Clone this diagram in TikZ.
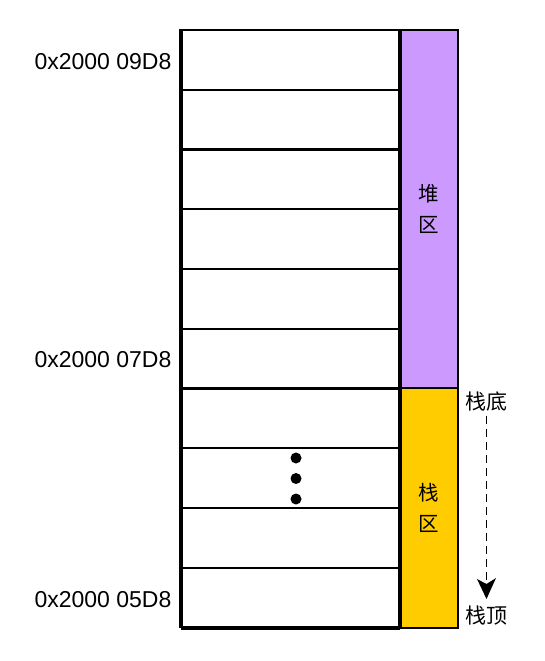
\documentclass[tikz,border=0pt]{standalone}
\usepackage{fontspec}
\setmainfont{Liberation Sans}
\newfontfamily\cjk{Noto Sans CJK SC}
\usetikzlibrary{arrows.meta}
\definecolor{heapc}{HTML}{CC99FF}
\definecolor{stackc}{HTML}{FFCC00}
\tikzset{
  cell/.style={draw=black, line width=2pt, minimum width=217pt, minimum height=59.7pt, inner sep=0pt, fill=white},
  region/.style={draw=black, line width=1.3pt, minimum width=59pt, inner sep=0pt, align=center, font=\cjk\fontsize{20.5}{31}\selectfont},
  addr/.style={inner sep=0pt, font=\fontsize{23}{27}\selectfont},
  side/.style={inner sep=0pt, font=\cjk\fontsize{21}{24}\selectfont},
  dotmark/.style={circle, fill=black, inner sep=0pt, minimum size=11pt},
  frame/.style={line width=3.2pt}
}
\begin{document}
\begin{tikzpicture}[x=1pt,y=-1pt]
\useasboundingbox (0,0) rectangle (545,661);
% memory cells
\foreach \i in {1,...,10} {
  \node[cell] (r\i) at (290.5, {30+59.75*(\i-0.5)}) {};
}
% regions
\node[region, fill=heapc, minimum height=358pt] (heap) at (428.5,209) {堆\\区};
\node[region, fill=stackc, minimum height=240pt] (stack) at (428.5,508) {栈\\区};
% thick frame lines
\draw[frame] (r1.north west) -- (r10.south west);
\draw[frame] (r1.north east) -- (r10.south east);
\draw[frame] (r10.south west) -- (r10.south east);
% dots
\node[dotmark] (d1) at (296,458) {};
\node[dotmark] (d2) at (296,478.5) {};
\node[dotmark] (d3) at (296,499) {};
% address labels
\node[addr] (a1) at (103,62) {0x2000 09D8};
\node[addr] (a2) at (103,360) {0x2000 07D8};
\node[addr] (a3) at (103,600) {0x2000 05D8};
% stack bottom / top
\node[side] (sb) at (486.5,402) {栈底};
\node[side] (st) at (486.5,616) {栈顶};
\coordinate (tip) at (486.5,599);
\coordinate (notch) at (486.5,584);
\draw[line width=1.3pt, dash pattern=on 8pt off 5pt] ([yshift=-4pt]sb.south) -- (notch);
\fill (tip) -- ++(-9.5,-20) -- (notch) -- ++(9.5,-6) -- cycle;
\end{tikzpicture}
\end{document}
